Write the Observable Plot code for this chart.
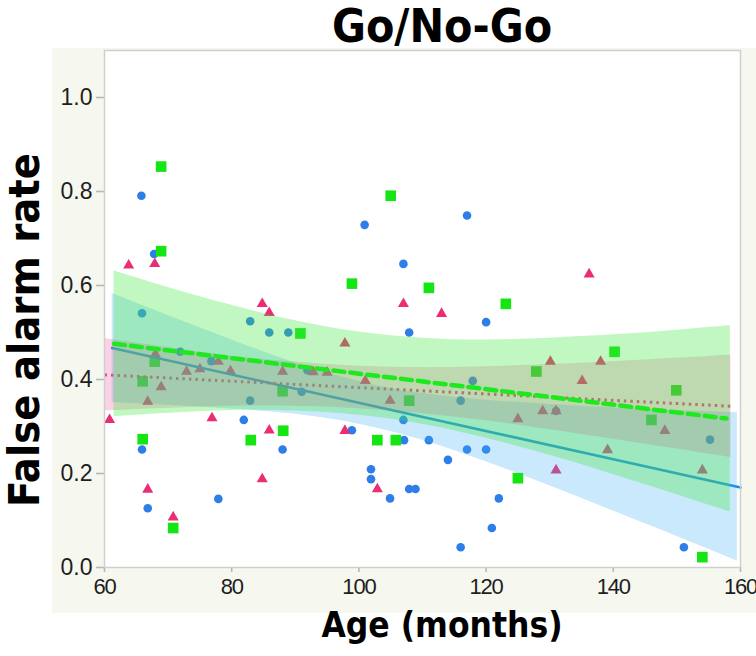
<!DOCTYPE html>
<html><head><meta charset="utf-8">
<script src="https://cdn.jsdelivr.net/npm/d3@7"></script>
<script src="https://cdn.jsdelivr.net/npm/@observablehq/plot@0.6"></script>
<style>
html,body{margin:0;padding:0;background:#fff;}
#wrap{position:relative;width:756px;height:656px;overflow:hidden;}
#panel{position:absolute;left:52px;top:48px;width:704px;height:565px;background:#f6f8f0;}
#wrap svg{position:absolute;left:0;top:0;}
g[aria-label$="-axis tick"]{stroke:#b4b8b4;stroke-width:1.6px;}
g[aria-label="x-axis tick label"]{letter-spacing:-1.2px;}
.lbl{position:absolute;white-space:nowrap;line-height:1;font-family:'DejaVu Sans Condensed','DejaVu Sans',sans-serif;font-stretch:condensed;font-weight:bold;color:#000;transform:translate(-50%,-50%);}
#title{left:442px;top:26px;font-size:46px;}
#xlabel{left:442px;top:625px;font-size:35px;}
#ylabel{left:24px;top:330px;font-size:43px;transform:translate(-50%,-50%) rotate(-90deg);}
</style></head><body><div id="wrap"><div id="panel"></div>
<div class="lbl" id="title">Go/No-Go</div>
<div class="lbl" id="xlabel">Age (months)</div>
<div class="lbl" id="ylabel">False alarm rate</div>
</div>
<script>
// ---- data ----
const xTicks = [60, 80, 100, 120, 140, 160];
const yTicks = [0, 0.2, 0.4, 0.6, 0.8, 1.0];

const blueAge = [65.8, 67.8, 65.9, 82.9, 85.9, 88.9, 71.9, 76.8, 82.9, 81.9, 65.9, 88.0, 77.9, 66.8,
  100.9, 117.0, 107.0, 120.0, 107.9, 91.9, 91.0, 117.9, 116.0, 107.0, 98.9, 107.1, 111.0, 117.0,
  120.0, 114.0, 101.9, 101.9, 107.9, 108.9, 104.9, 122.0, 120.9, 116.0, 131.0, 155.2, 151.1];
const blueRate = [0.791, 0.667, 0.541, 0.524, 0.500, 0.500, 0.459, 0.439, 0.355, 0.314, 0.251, 0.251, 0.146, 0.126,
  0.729, 0.749, 0.646, 0.522, 0.500, 0.420, 0.374, 0.397, 0.355, 0.314, 0.292, 0.271, 0.271, 0.251,
  0.251, 0.229, 0.209, 0.188, 0.167, 0.167, 0.147, 0.147, 0.084, 0.043, 0.333, 0.272, 0.043];

const greenAge = [68.9, 68.9, 90.8, 67.9, 66.0, 88.0, 88.1, 66.0, 83.0, 70.8, 105.0, 98.9, 111.0, 123.1,
  127.9, 107.9, 102.9, 105.8, 125.0, 140.2, 149.9, 146.0, 154.0];
const greenRate = [0.853, 0.673, 0.498, 0.438, 0.396, 0.375, 0.291, 0.273, 0.271, 0.084, 0.791, 0.604, 0.595, 0.561,
  0.417, 0.355, 0.271, 0.271, 0.190, 0.459, 0.377, 0.314, 0.022];

const pinkAge = [63.8, 67.9, 84.8, 85.9, 68.0, 77.9, 72.9, 75.0, 79.8, 88.0, 68.9, 66.8, 60.8, 76.9, 85.9, 84.8,
  66.8, 70.8, 107.0, 113.0, 97.8, 92.8, 95.0, 101.0, 104.9, 125.0, 97.8, 102.9, 136.2, 130.1, 138.0,
  135.1, 128.9, 131.0, 148.1, 139.1, 131.0, 154.0];
const pinkRate = [0.643, 0.646, 0.561, 0.542, 0.454, 0.438, 0.417, 0.422, 0.418, 0.417, 0.384, 0.353, 0.314, 0.318, 0.292, 0.188,
  0.166, 0.107, 0.561, 0.540, 0.477, 0.416, 0.415, 0.397, 0.355, 0.316, 0.291, 0.167, 0.624, 0.438, 0.438,
  0.397, 0.333, 0.333, 0.291, 0.250, 0.207, 0.207];

// fitted lines (end points)
const blueFitX = [61.2, 160];  const blueFitY = [0.467, 0.170];
const greenFitX = [61.5, 157.8]; const greenFitY = [0.476, 0.317];
const pinkFitX = [60, 158.6];  const pinkFitY = [0.410, 0.343];

// confidence bands (edges)
const greenBandX  = [61.5, 70, 80, 90, 100, 110, 120, 130, 140, 150, 158.4];
const greenBandLo = [0.321, 0.328, 0.334, 0.333, 0.324, 0.305, 0.275, 0.239, 0.198, 0.155, 0.118];
const greenBandHi = [0.631, 0.596, 0.558, 0.525, 0.501, 0.488, 0.484, 0.488, 0.495, 0.505, 0.515];

const blueBandX  = [61.2, 70, 80, 90, 100, 110, 120, 130, 140, 150, 159.5];
const blueBandLo = [0.351, 0.345, 0.337, 0.326, 0.305, 0.271, 0.225, 0.174, 0.120, 0.066, 0.014];
const blueBandHi = [0.583, 0.536, 0.484, 0.435, 0.396, 0.370, 0.356, 0.347, 0.340, 0.334, 0.329];

const pinkBandX  = [60, 70, 80, 90, 100, 110, 120, 130, 140, 150, 158.5];
const pinkBandLo = [0.333, 0.339, 0.343, 0.343, 0.338, 0.327, 0.312, 0.293, 0.273, 0.252, 0.234];
const pinkBandHi = [0.487, 0.468, 0.450, 0.437, 0.428, 0.425, 0.427, 0.432, 0.438, 0.445, 0.452];

// ---- build tables ----
const pts = (xs, ys) => xs.map((x, i) => ({x, y: ys[i]}));
const band = (xs, lo, hi) => xs.map((x, i) => ({x, lo: lo[i], hi: hi[i]}));

const blue = pts(blueAge, blueRate);
const green = pts(greenAge, greenRate);
const pink = pts(pinkAge, pinkRate);

const chart = Plot.plot({
  width: 756, height: 656,
  marginLeft: 104, marginRight: 16, marginTop: 50, marginBottom: 89,
  style: {background: "transparent", fontFamily: "'Liberation Sans', Arial, sans-serif", fontSize: "23px", color: "#1e1e1e", overflow: "visible"},
  x: {domain: [60, 160]},
  y: {domain: [0, 1.1]},
  marks: [
    Plot.frame({fill: "white"}),
    Plot.axisX({ticks: xTicks, tickSize: 5, tickPadding: 6, label: null, fontSize: 22}),
    Plot.axisY({ticks: yTicks, tickSize: 8, tickPadding: 4, label: null, fontSize: 23, tickFormat: d3.format(".1f")}),
    Plot.dot(blue, {x: "x", y: "y", r: 4.3, symbol: "circle", fill: "#2d7ee8"}),
    Plot.dot(green, {x: "x", y: "y", r: 6, symbol: "square", fill: "#14e614"}),
    Plot.dot(pink, {x: "x", y: "y", r: 4.1, symbol: "triangle", fill: "#ea2d74"}),
    Plot.line(pts(blueFitX, blueFitY), {x: "x", y: "y", stroke: "#1e88e0", strokeWidth: 2.6}),
    Plot.line(pts(pinkFitX, pinkFitY), {x: "x", y: "y", stroke: "#e8407f", strokeWidth: 3, strokeDasharray: "2.5,4", strokeLinecap: "butt"}),
    Plot.areaY(band(blueBandX, blueBandLo, blueBandHi), {x: "x", y1: "lo", y2: "hi", fill: "#40b0f8", fillOpacity: 0.28, curve: "natural"}),
    Plot.areaY(band(pinkBandX, pinkBandLo, pinkBandHi), {x: "x", y1: "lo", y2: "hi", fill: "#f04898", fillOpacity: 0.25, curve: "natural"}),
    Plot.areaY(band(greenBandX, greenBandLo, greenBandHi), {x: "x", y1: "lo", y2: "hi", fill: "#3de63d", fillOpacity: 0.32, curve: "natural"}),
    Plot.line(pts(greenFitX, greenFitY), {x: "x", y: "y", stroke: "#1ee81e", strokeWidth: 4.5, strokeDasharray: "11,6"}),
    Plot.frame({stroke: "#cdd1cd", strokeWidth: 1.5})
  ]
});
document.getElementById("wrap").appendChild(chart);
</script></body></html>
